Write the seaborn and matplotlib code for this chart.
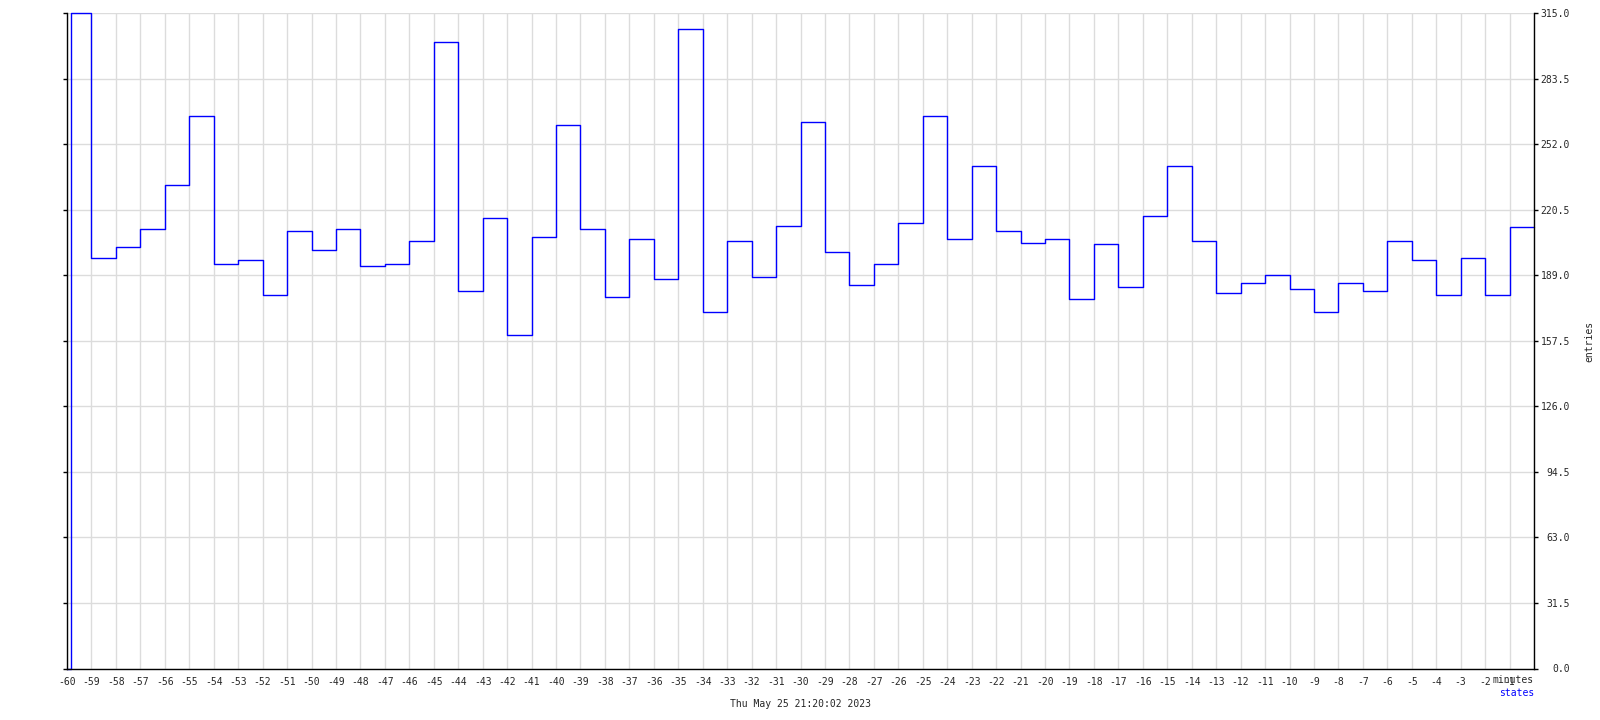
import matplotlib
matplotlib.use("Agg")
import matplotlib.pyplot as plt
import seaborn as sns
import pandas as pd

step_start = [-60, -59.85] + list(range(-59, 0))
entries = [
    0.0, 315.0,
    197.2, 202.5, 211.1, 232.3, 265.5, 194.3, 196.2, 179.4, 210.3, 201.2,
    211.1, 193.3, 194.3, 205.5, 301.1, 181.3, 216.4, 160.3, 207.3, 261.1,
    211.1, 178.6, 206.3, 187.1, 307.3, 171.2, 205.5, 188.2, 212.9, 262.9,
    200.1, 184.2, 194.3, 214.0, 265.5, 206.3, 241.6, 210.3, 204.4, 206.3,
    177.5, 204.2, 183.2, 217.4, 241.6, 205.5, 180.3, 185.2, 189.0, 182.3,
    171.2, 185.2, 181.3, 205.5, 196.2, 179.4, 197.2, 179.5, 212.1,
]
x_ticks = list(range(-60, 1))
x_tick_labels = [str(m) for m in range(-60, 0)] + [""]
y_ticks = [0.0, 31.5, 63.0, 94.5, 126.0, 157.5, 189.0, 220.5, 252.0, 283.5, 315.0]
y_tick_labels = [f"{v:.1f}" for v in y_ticks]
timestamp = "Thu May 25 21:20:02 2023"

# last value holds until "now" (minute 0)
df = pd.DataFrame({
    "minute": step_start + [0],
    "entries": entries + [entries[-1]],
})

sns.set_theme(style="white")
plt.rcParams["font.family"] = ["DejaVu Sans Mono", "DejaVu Sans"]
plt.rcParams["font.size"] = 7

fig = plt.figure(figsize=(16, 7.2), dpi=100)
ax = fig.add_axes([67 / 1600, 1 - 668.5 / 720, (1534 - 67) / 1600, (668.5 - 13.3) / 720])

ax.grid(True, color="#dcdcdc", linewidth=1)
ax.set_axisbelow(True)

sns.lineplot(data=df, x="minute", y="entries", ax=ax, color="#0000ff",
             linewidth=1.0, drawstyle="steps-post", estimator=None,
             sort=False, clip_on=False)

ax.set_xlim(-60, 0)
ax.set_ylim(0, 315)
ax.set_xticks(x_ticks)
ax.set_xticklabels(x_tick_labels)
ax.set_yticks(y_ticks)
ax.set_yticklabels(y_tick_labels)
ax.set_xlabel("")
ax.set_ylabel("")

for side in ["left", "right", "bottom"]:
    ax.spines[side].set_color("black")
    ax.spines[side].set_linewidth(1)
ax.spines["top"].set_visible(False)

ax.tick_params(axis="x", direction="out", length=3, width=1, color="black",
               pad=3, labelsize=7)
ax.tick_params(axis="y", direction="out", length=3, width=1, color="black",
               left=True, right=True, labelleft=False, labelright=True,
               pad=23, labelsize=7)
for lbl in ax.get_yticklabels():
    lbl.set_horizontalalignment("right")

fig.text(1589 / 1600, 1 - 341 / 720, "entries", rotation=90,
         ha="center", va="center", fontsize=7)
fig.text(1534 / 1600, 1 - 680 / 720, "minutes", ha="right", va="center", fontsize=7)
fig.text(1534 / 1600, 1 - 692.5 / 720, "states", ha="right", va="center",
         fontsize=7, color="#0000ff")
fig.text(800 / 1600, 1 - 704 / 720, timestamp, ha="center", va="center", fontsize=7)

fig.savefig("out.png", dpi=100)
